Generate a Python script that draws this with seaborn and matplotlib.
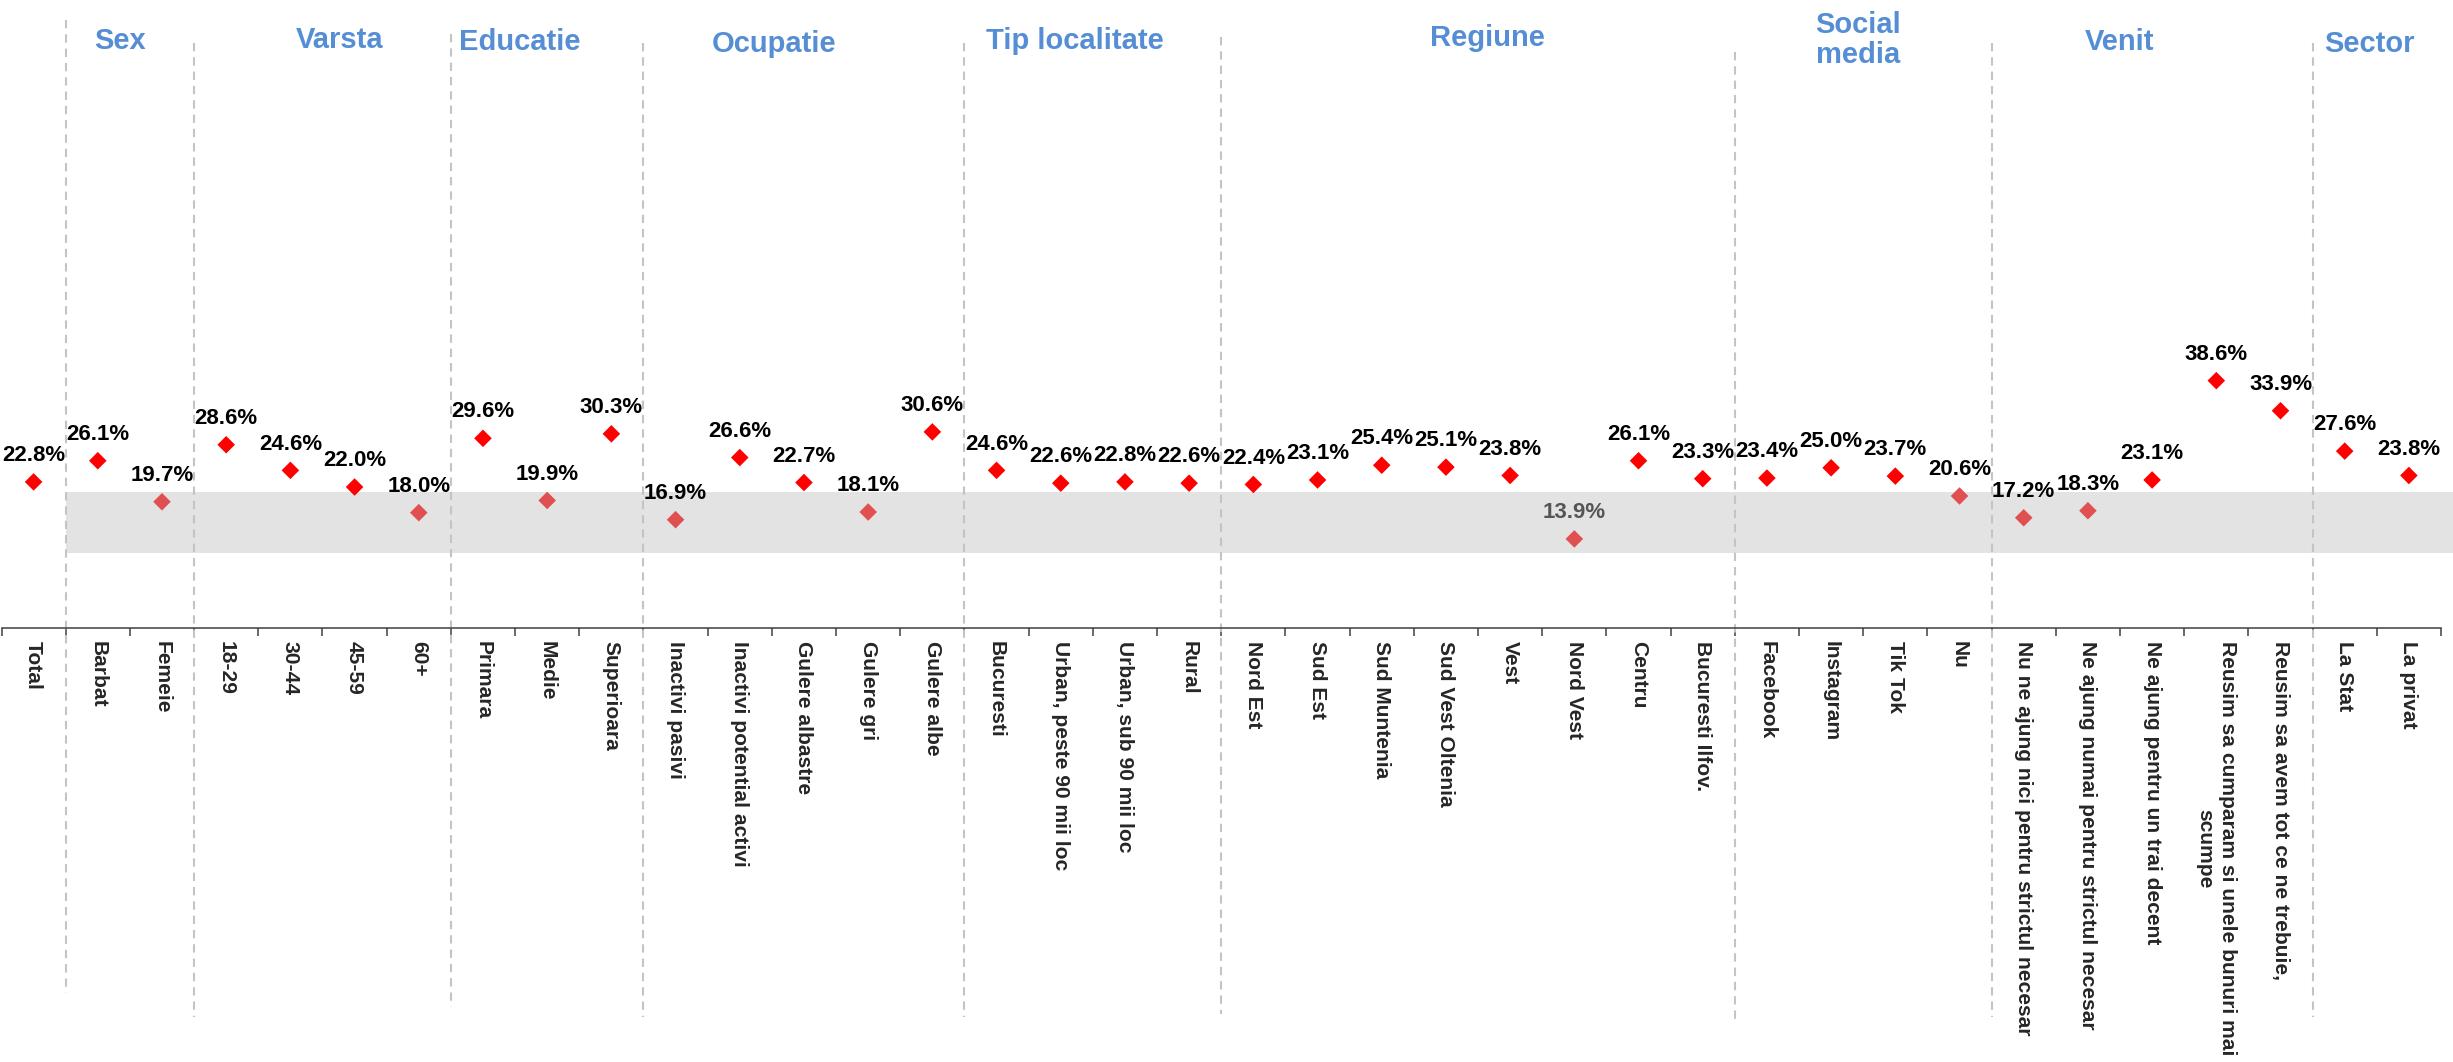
import numpy as np
import pandas as pd
import matplotlib
matplotlib.use('Agg')
import matplotlib.pyplot as plt
import matplotlib.transforms as mtransforms
from matplotlib.patches import Rectangle
import seaborn as sns

categories = ['Total', 'Barbat', 'Femeie', '18-29', '30-44', '45-59', '60+',
              'Primara', 'Medie', 'Superioara',
              'Inactivi pasivi', 'Inactivi potential activi', 'Gulere albastre',
              'Gulere gri', 'Gulere albe',
              'Bucuresti', 'Urban, peste 90 mii loc', 'Urban, sub 90 mii loc', 'Rural',
              'Nord Est', 'Sud Est', 'Sud Muntenia', 'Sud Vest Oltenia', 'Vest',
              'Nord Vest', 'Centru', 'Bucuresti Ilfov.',
              'Facebook', 'Instagram', 'Tik Tok', 'Nu',
              'Nu ne ajung nici pentru strictul necesar',
              'Ne ajung numai pentru strictul necesar',
              'Ne ajung pentru un trai decent',
              'Reusim sa cumparam si unele bunuri mai\nscumpe',
              'Reusim sa avem tot ce ne trebuie,',
              'La Stat', 'La privat']
values = [22.8, 26.1, 19.7, 28.6, 24.6, 22.0, 18.0, 29.6, 19.9, 30.3,
          16.9, 26.6, 22.7, 18.1, 30.6, 24.6, 22.6, 22.8, 22.6,
          22.4, 23.1, 25.4, 25.1, 23.8, 13.9, 26.1, 23.3,
          23.4, 25.0, 23.7, 20.6, 17.2, 18.3, 23.1, 38.6, 33.9,
          27.6, 23.8]
group_names = ['Sex', 'Varsta', 'Educatie', 'Ocupatie', 'Tip localitate',
               'Regiune', 'Social\nmedia', 'Venit', 'Sector']
group_sizes = [2, 4, 3, 5, 4, 8, 4, 5, 2]
band_low, band_high = 11.7, 21.2

# layout (figure pixels / data offsets)
title_x = [1.35, 4.77, 7.58, 11.53, 16.22, 22.64, 28.42, 32.5, 36.38]
title_y_px = [41, 40, 42, 44, 41, 38, 40, 42, 44]
line_top_px = [20, 43, 34, 43, 43, 37, 52, 43, 43]
line_bot_px = [993, 1017, 1007, 1017, 1017, 1014, 1020, 1017, 1017]

W, H = 2453, 1062
sns.set_theme(style='white')
plt.rcParams['font.family'] = ['Liberation Sans', 'DejaVu Sans']
plt.rcParams['lines.scale_dashes'] = False

df = pd.DataFrame({'pos': np.arange(len(categories)), 'val': values})
df['zone'] = np.where(df['val'] < band_high, 'low', 'high')

fig = plt.figure(figsize=(W / 100, H / 100), dpi=100)
ax = fig.add_axes([1.5 / W, 1 - 628 / H, 2439.5 / W, 628 / H])

ax.add_patch(Rectangle((0.5, band_low), 37.5, band_high - band_low,
                       facecolor='#E3E3E3', edgecolor='none', zorder=0, clip_on=False))

sns.scatterplot(data=df, x='pos', y='val', hue='zone', marker='D', s=80,
                palette={'high': '#FF0000', 'low': '#E05050'}, edgecolor='none',
                legend=False, ax=ax, zorder=3)

for x, v in zip(df['pos'], df['val']):
    col = '#555555' if v < 15 else 'black'
    ax.annotate(f'{v:.1f}%', (x, v), xytext=(0, 15), textcoords='offset points',
                ha='center', va='baseline', fontsize=16, fontweight='bold', color=col)

ax.set_xlim(-0.5, len(categories) - 0.5)
ax.set_ylim(0, 98)

# group separators and titles
blend = mtransforms.blended_transform_factory(ax.transData, fig.transFigure)
bounds = np.cumsum([1] + group_sizes)[:-1] - 0.5
for b, t, bt in zip(bounds, line_top_px, line_bot_px):
    ax.plot([b, b], [1 - t / H, 1 - bt / H], transform=blend, color='#C4C4C4',
            lw=1.5, dashes=(6, 4.3), clip_on=False, zorder=2)
for name, tx, ty in zip(group_names, title_x, title_y_px):
    ax.text(tx, 1 - ty / H, name, transform=blend, ha='center', va='center',
            fontsize=21, fontweight='bold', color='#558ED5', linespacing=1.1)

ax.set_xticks(np.arange(len(categories) + 1) - 0.5)
ax.set_xticklabels([])
ax.set_xticks(np.arange(len(categories)), categories, minor=True)
ax.tick_params(axis='x', which='major', length=6, width=1.1, color='#404040',
               direction='out', bottom=True)
ax.tick_params(axis='x', which='minor', length=0, pad=9.5, labelsize=15.1,
               labelrotation=-90)
for lab in ax.get_xticklabels(minor=True):
    lab.set_fontweight('bold')
    lab.set_multialignment('center')
ax.set_yticks([])
ax.set_xlabel('')
ax.set_ylabel('')
for s in ['left', 'top', 'right']:
    ax.spines[s].set_visible(False)
ax.spines['bottom'].set_color('#404040')
ax.spines['bottom'].set_linewidth(1.1)

fig.savefig('out.png', dpi=100)
